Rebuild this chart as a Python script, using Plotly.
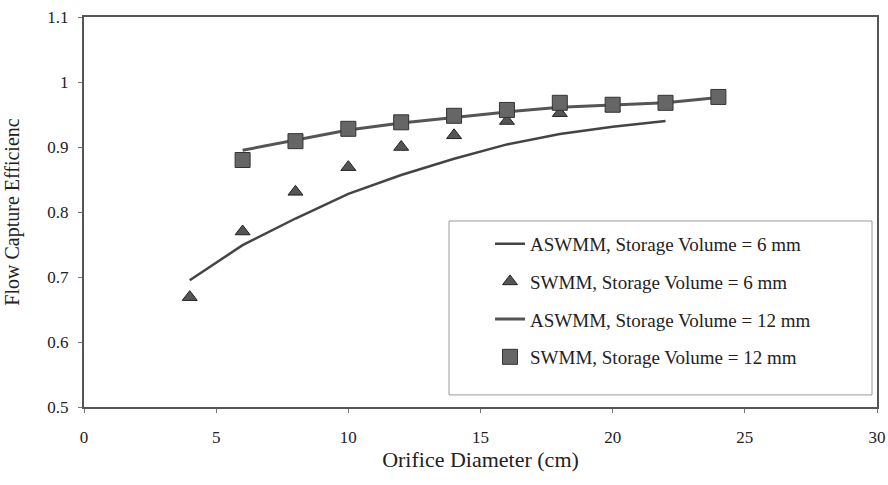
import plotly.graph_objects as go

# ---- data ----
aswmm6_x = [4, 6, 8, 10, 12, 14, 16, 18, 20, 22]
aswmm6_y = [0.695, 0.749, 0.790, 0.828, 0.857, 0.882, 0.904, 0.920, 0.931, 0.940]

swmm6_x = [4, 6, 8, 10, 12, 14, 16, 18, 20]
swmm6_y = [0.669, 0.770, 0.831, 0.869, 0.900, 0.918, 0.940, 0.952, 0.960]

aswmm12_x = [6, 8, 10, 12, 14, 16, 18, 20, 22, 24]
aswmm12_y = [0.895, 0.911, 0.926, 0.937, 0.946, 0.954, 0.961, 0.965, 0.968, 0.976]

swmm12_x = [6, 8, 10, 12, 14, 16, 18, 20, 22, 24]
swmm12_y = [0.880, 0.909, 0.928, 0.938, 0.948, 0.957, 0.968, 0.965, 0.968, 0.977]

x_ticks = [0, 5, 10, 15, 20, 25, 30]
y_ticks = [0.5, 0.6, 0.7, 0.8, 0.9, 1.0, 1.1]
y_tick_text = ["0.5", "0.6", "0.7", "0.8", "0.9", "1", "1.1"]

names = [
    "ASWMM, Storage Volume = 6 mm",
    "SWMM, Storage Volume = 6 mm",
    "ASWMM, Storage Volume = 12 mm",
    "SWMM, Storage Volume = 12 mm",
]

FONT = "Liberation Serif"
LINE_COL = "#444444"

fig = go.Figure()
fig.add_trace(go.Scatter(x=aswmm6_x, y=aswmm6_y, mode="lines", name=names[0],
                         legendgroup="a", line=dict(color=LINE_COL, width=2.5)))
fig.add_trace(go.Scatter(x=swmm6_x, y=swmm6_y, mode="markers", name=names[1],
                         legendgroup="b",
                         marker=dict(symbol="triangle-up", size=13, color="#555555",
                                     line=dict(color="#222222", width=1))))
fig.add_trace(go.Scatter(x=aswmm12_x, y=aswmm12_y, mode="lines", name=names[2],
                         legendgroup="c", line=dict(color="#555555", width=3)))
fig.add_trace(go.Scatter(x=swmm12_x, y=swmm12_y, mode="markers", name=names[3],
                         legendgroup="d",
                         marker=dict(symbol="square", size=15, color="#666666",
                                     line=dict(color="#333333", width=1))))

fig.update_layout(
    width=888, height=485,
    margin=dict(l=84, r=11, t=17, b=78, autoexpand=False),
    paper_bgcolor="white", plot_bgcolor="white",
    font=dict(family=FONT, color="#222222", size=16),
    showlegend=True,
    legend=dict(x=0.512, y=0.467, xanchor="left", yanchor="top",
                bgcolor="rgba(0,0,0,0)", borderwidth=0,
                font=dict(family=FONT, size=19, color="#222222"),
                traceorder="grouped", tracegroupgap=10, itemwidth=30),
    shapes=[dict(type="rect", xref="paper", yref="paper",
                 x0=0.4603, x1=0.9937, y0=0.031, y1=0.477,
                 line=dict(color="#9a9a9a", width=1))],
)

fig.update_xaxes(range=[0, 30], tickvals=x_ticks, showgrid=False, zeroline=False,
                 automargin=False,
                 showline=True, linecolor="#555555", linewidth=2, mirror=True,
                 ticks="outside", ticklen=4, tickcolor="#777777",
                 tickfont=dict(family=FONT, size=17), ticklabelstandoff=10,
                 title=dict(text="Orifice Diameter (cm)",
                            font=dict(family=FONT, size=22), standoff=4))
fig.update_yaxes(range=[0.5, 1.1], tickvals=y_ticks, ticktext=y_tick_text,
                 showgrid=False, zeroline=False, automargin=False,
                 showline=True, linecolor="#555555", linewidth=2, mirror=True,
                 ticks="outside", ticklen=4, tickcolor="#777777",
                 tickfont=dict(family=FONT, size=17), ticklabelstandoff=6,
                 title=dict(text="Flow Capture Efficienc",
                            font=dict(family=FONT, size=20), standoff=22))

fig.write_html("out.html", config={"displayModeBar": False},
               post_script="document.body.style.margin='0';document.body.style.padding='0';")
